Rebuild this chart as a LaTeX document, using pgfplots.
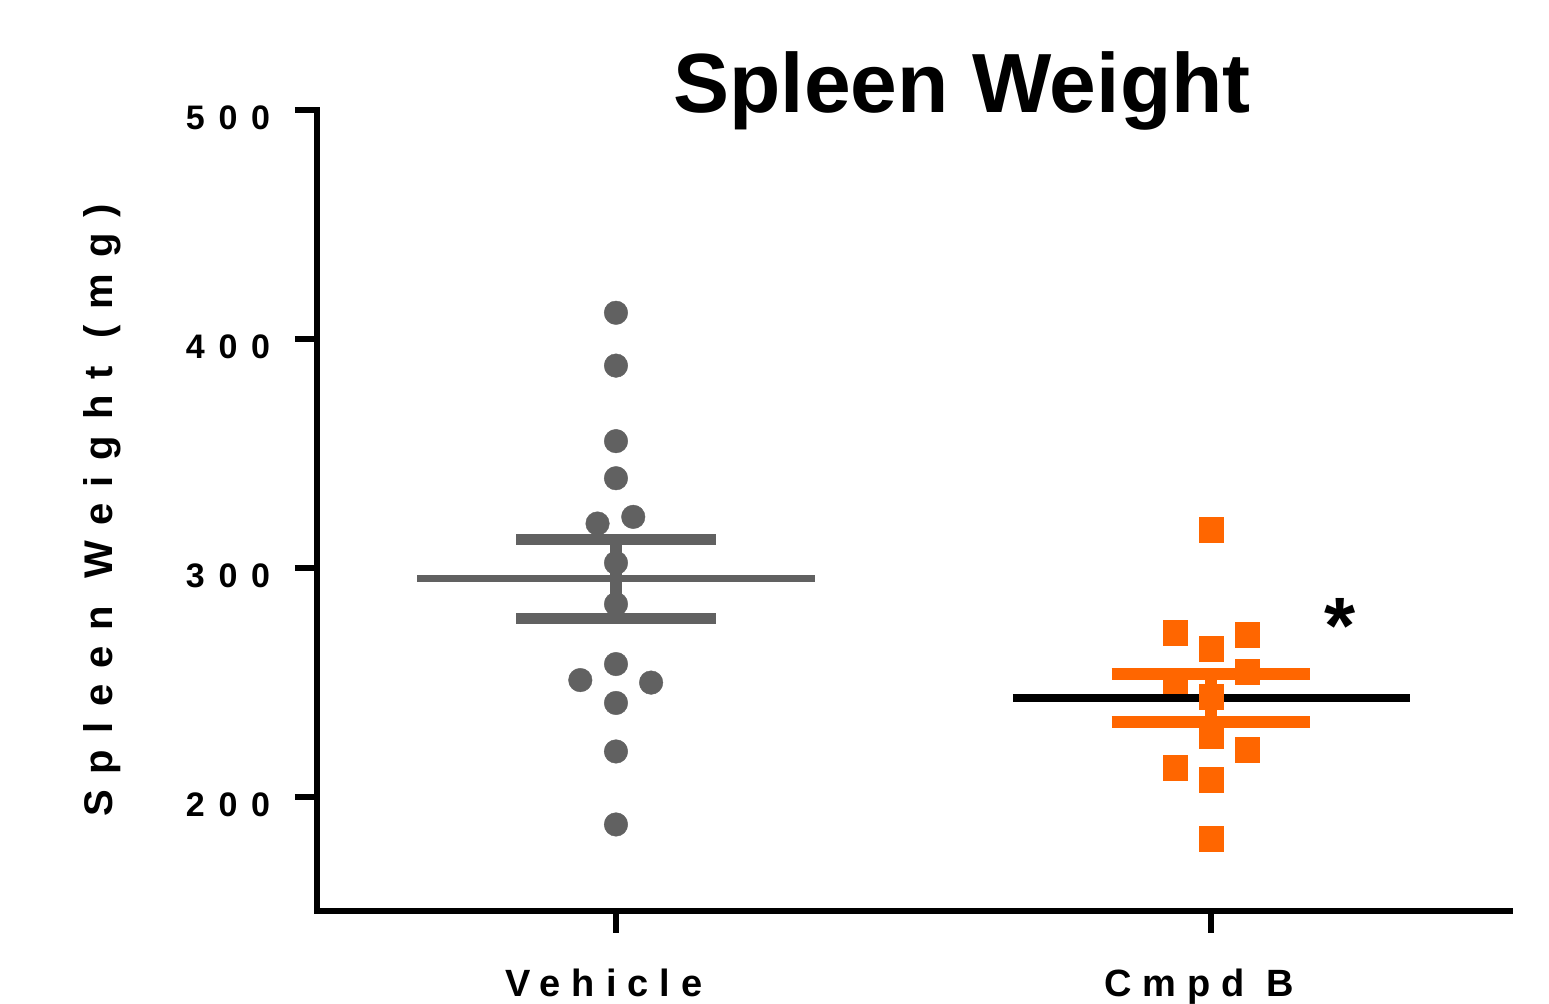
\documentclass[border=0pt]{standalone}
\usepackage{fontspec}
\setmainfont{Liberation Sans}
\newfontfamily\spacedfont[LetterSpace=40]{Liberation Sans}
\newfontfamily\catfont[LetterSpace=29]{Liberation Sans}
\usepackage{pgfplots}
\pgfplotsset{compat=1.18}
\definecolor{vehgray}{HTML}{616161}
\definecolor{cmpdorange}{HTML}{FF6600}

\begin{document}
\begin{tikzpicture}
\useasboundingbox (-158.5pt,-46.5pt) rectangle (616pt,455.5pt);
\begin{axis}[
  at={(0,0)}, anchor=south west,
  scale only axis,
  width=596.5pt, height=400.5pt,
  xmin=-0.5025, xmax=1.5025,
  ymin=150, ymax=500,
  axis x line=bottom, axis y line=left,
  axis line style={line width=3pt, -, line cap=rect},
  xtick={0,1}, xticklabels={Vehicle,Cmpd B},
  ytick={200,300,400,500}, yticklabels={200,300,400,500},
  tick align=outside, major tick length=11pt,
  tick style={line width=3pt, black},
  yticklabel style={font=\spacedfont\bfseries\fontsize{17pt}{17pt}\selectfont, xshift=-9pt, yshift=-4pt},
  xticklabel style={font=\catfont\bfseries\fontsize{19pt}{19pt}\selectfont, anchor=base, yshift=-32pt, xshift=-6pt},
  ylabel={Spleen Weight (mg)},
  every axis y label/.style={at={(rel axis cs:-0.171,0.5)}, rotate=90, anchor=base,
    font=\spacedfont\bfseries\fontsize{20pt}{20pt}\selectfont},
  clip=false,
]
% Vehicle points
\addplot[only marks, mark=*, mark size=5.9pt, vehgray, mark options={fill=vehgray, draw=vehgray, line width=0.2pt}] coordinates {
  (0,411.4) (0,388.3) (0,355.3) (0,339.1) (-0.031,319.3) (0.029,322.2)
  (0,302.1) (0,284.1) (0,257.9) (-0.060,250.9) (0.059,249.8) (0,240.9)
  (0,219.7) (0,187.8)
};
% Vehicle mean and SEM
\addplot[vehgray, line width=6pt] coordinates {(0,277.7) (0,312.3)};
\addplot[vehgray, line width=5.5pt] coordinates {(-0.168,312.3) (0.168,312.3)};
\addplot[vehgray, line width=5.5pt] coordinates {(-0.168,277.7) (0.168,277.7)};
\addplot[vehgray, line width=3.5pt] coordinates {(-0.334,295.1) (0.334,295.1)};
% Cmpd B points
\addplot[only marks, mark=square*, mark size=6.15pt, cmpdorange, mark options={fill=cmpdorange, draw=cmpdorange, line width=0.2pt}] coordinates {
  (1,316.6) (0.9395,271.6) (1.0605,270.7) (1,264.6) (1.0605,254.6)
  (0.9395,250.4) (1,243.7) (1,226.6) (1.0605,220.5) (0.9395,212.7)
  (1,207.4) (1,181.7)
};
% Cmpd B mean and SEM
\addplot[cmpdorange, line width=6pt] coordinates {(1,232.5) (1,253.7)};
\addplot[cmpdorange, line width=6pt] coordinates {(0.833,253.7) (1.167,253.7)};
\addplot[cmpdorange, line width=6pt] coordinates {(0.833,232.5) (1.167,232.5)};
\addplot[black, line width=4pt] coordinates {(0.667,243.2) (1.334,243.2)};
% significance and title
\node[font=\bfseries\fontsize{40pt}{40pt}\selectfont] at (axis cs:1.2168,274.5) {*};
\node[anchor=base, font=\bfseries\fontsize{42pt}{42pt}\selectfont] at (axis cs:0.5815,498.7) {Spleen Weight};
\end{axis}
\end{tikzpicture}
\end{document}
